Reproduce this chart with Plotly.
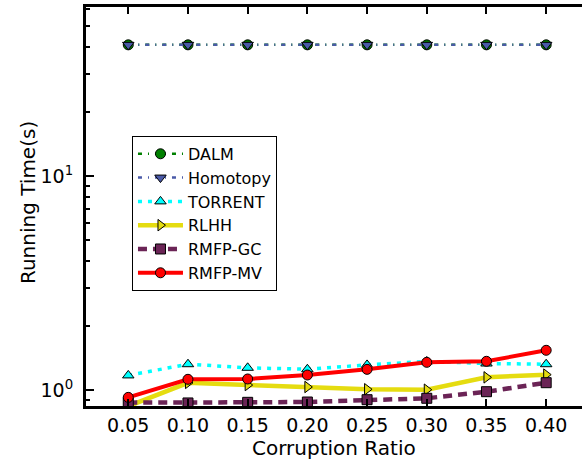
import plotly.graph_objects as go

ratios = [0.05, 0.10, 0.15, 0.20, 0.25, 0.30, 0.35, 0.40]
tick_labels = ["0.05", "0.10", "0.15", "0.20", "0.25", "0.30", "0.35", "0.40"]

dalm = [41.0, 41.0, 41.0, 41.0, 41.0, 41.0, 41.0, 41.0]
homotopy = [41.0, 41.0, 41.0, 41.0, 41.0, 41.0, 41.0, 41.0]
torrent = [1.17, 1.32, 1.27, 1.25, 1.31, 1.36, 1.33, 1.32]
rlhh = [0.84, 1.08, 1.055, 1.033, 1.008, 1.003, 1.146, 1.18]
rmfp_gc = [0.873, 0.870, 0.876, 0.879, 0.901, 0.915, 0.982, 1.082]
rmfp_mv = [0.924, 1.122, 1.126, 1.175, 1.249, 1.347, 1.362, 1.533]

series = [
    ("DALM", dalm, "#008000", "circle", "4px,6px,1px,6px", 2.5),
    ("Homotopy", homotopy, "#4a5aa8", "triangle-down", "4px,6px,1px,6px", 2.5),
    ("TORRENT", torrent, "#00ffff", "triangle-up", "4px,6px", 3.5),
    ("RLHH", rlhh, "#e5dc10", "triangle-right", "solid", 4.5),
    ("RMFP-GC", rmfp_gc, "#6b2456", "square", "9px,6px", 4.5),
    ("RMFP-MV", rmfp_mv, "#ff0000", "circle", "solid", 4),
]

fig = go.Figure()
for name, vals, color, sym, dash, lw in series:
    fig.add_trace(go.Scatter(
        x=ratios, y=vals, name=name, mode="lines+markers",
        line=dict(color=color, width=lw, dash=dash),
        marker=dict(symbol=sym, size=10, color=color, line=dict(color="black", width=1)),
        cliponaxis=True,
    ))

# invisible trace to enable a top x axis with ticks
fig.add_trace(go.Scatter(x=[ratios[0]], y=[dalm[0]], xaxis="x2", showlegend=False,
                         mode="markers", marker=dict(opacity=0), hoverinfo="skip"))

font_family = "DejaVu Sans"
minor_vals = [0.9] + [v * 10 for v in range(2, 10)] + [v for v in range(2, 10)] + [v * 10 for v in range(1, 7)]

fig.update_layout(
    width=582, height=464,
    margin=dict(l=86, r=0, t=7, b=58),
    paper_bgcolor="white", plot_bgcolor="white",
    font=dict(family=font_family, color="black", size=19),
    showlegend=True,
    legend=dict(x=0.0927, y=0.677, xanchor="left", yanchor="top",
                bordercolor="black", borderwidth=1, bgcolor="white",
                itemwidth=45,
                font=dict(size=16, family=font_family), tracegroupgap=0),
    xaxis=dict(
        range=[0.0146, 0.430], tickvals=ratios, ticktext=tick_labels,
        ticks="inside", ticklen=7, tickwidth=1.5, tickcolor="black",
        showline=True, linewidth=3, linecolor="black",
        showgrid=False, zeroline=False, ticklabelstandoff=0,
    ),
    xaxis2=dict(
        overlaying="x", side="top", matches="x", tickvals=ratios,
        showticklabels=False, ticks="inside", ticklen=7, tickwidth=1.5,
        tickcolor="black", showline=True, linewidth=3, linecolor="black",
        showgrid=False, zeroline=False,
    ),
    yaxis=dict(
        type="log", range=[-0.0747, 1.7896],
        tickvals=[1, 10], ticktext=["10<sup>0</sup>", "10<sup>1</sup>"],
        ticks="inside", ticklen=8, tickwidth=1.5, tickcolor="black",
        minor=dict(tickvals=minor_vals, ticks="inside", ticklen=4, tickwidth=1.5, tickcolor="black", showgrid=False),
        showline=True, linewidth=3, linecolor="black",
        showgrid=False, zeroline=False, ticklabelstandoff=6,
    ),
    annotations=[
        dict(text="Corruption Ratio", xref="paper", yref="paper", x=0.5, y=-0.105,
             xanchor="center", yanchor="middle", showarrow=False, font=dict(size=20)),
        dict(text="Running Time(s)", xref="paper", yref="paper", x=-0.117, y=0.511,
             xanchor="center", yanchor="middle", showarrow=False, textangle=-90,
             font=dict(size=20)),
    ],
)

fig.write_html("out.html")
